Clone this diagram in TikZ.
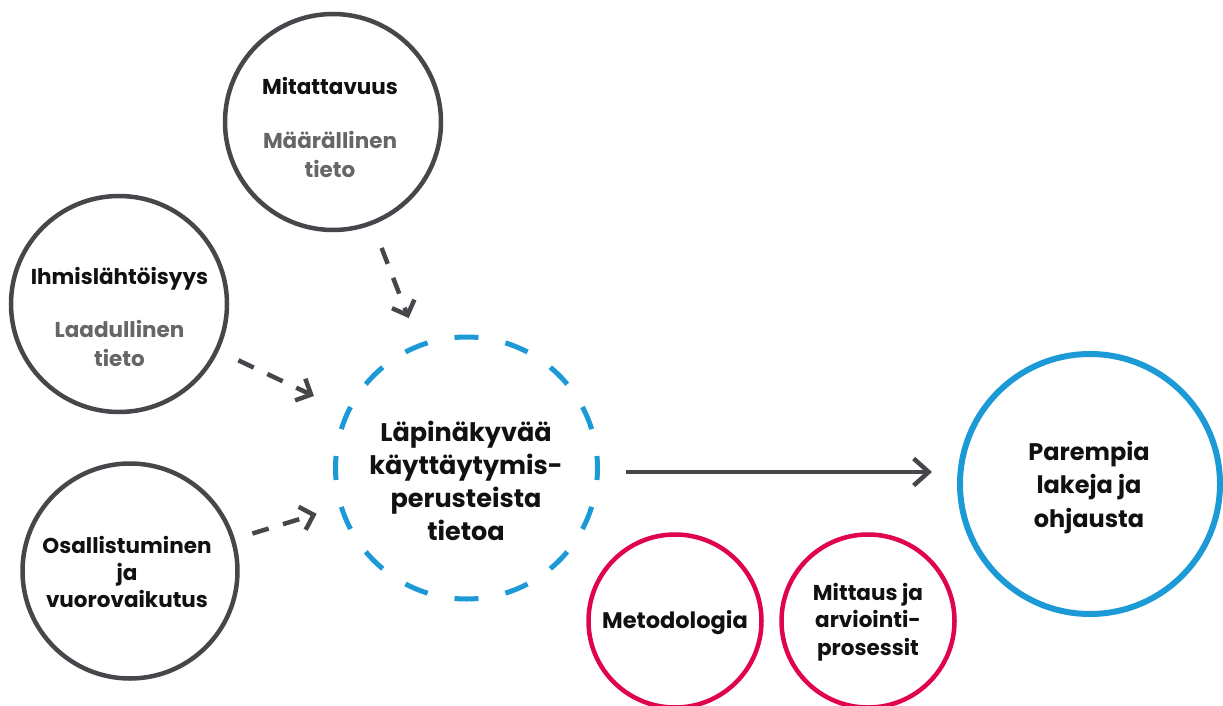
\documentclass[tikz,border=0pt]{standalone}
\usepackage{fontspec}
\setmainfont{Poppins}
\usetikzlibrary{arrows.meta}
\definecolor{ringgray}{HTML}{47464B}
\definecolor{subgray}{HTML}{666666}
\definecolor{txtblack}{HTML}{111111}
\definecolor{ringblue}{HTML}{1C9AD6}
\definecolor{ringred}{HTML}{E0044F}
\newcommand\fsz[2]{\fontsize{#1}{#2}\selectfont\bfseries}
\begin{document}
\begin{tikzpicture}[x=1pt,y=-1pt,
  ring/.style={circle,draw=ringgray,line width=4.5pt,inner sep=0pt,outer sep=0pt},
  bluering/.style={circle,draw=ringblue,line width=6pt,inner sep=0pt,outer sep=0pt},
  dashring/.style={circle,draw=ringblue,line width=5pt,inner sep=0pt,outer sep=0pt,
    dash pattern=on 24pt off 27.45pt,dash phase=12pt},
  redring/.style={circle,draw=ringred,line width=4.5pt,inner sep=0pt,outer sep=0pt},
  lbl/.style={inner sep=0pt,outer sep=0pt,align=center,text=txtblack,anchor=base},
  dasharrow/.style={draw=ringgray,line width=4.5pt,dash pattern=on 17pt off 15pt,
    -{Straight Barb[length=12pt,width=24pt]}},
  solidarrow/.style={draw=ringgray,line width=4.5pt,
    -{Straight Barb[length=15pt,width=27pt]}}
]
\useasboundingbox (0,0) rectangle (1223,706);
% circles
\node[ring,minimum size=216pt] (m) at (333,122) {};
\node[ring,minimum size=216pt] (i) at (119,304) {};
\node[ring,minimum size=215pt] (o) at (130,571) {};
\node[dashring,minimum size=262pt] (c) at (466.5,468) {};
\node[bluering,minimum size=260pt] (p) at (1090,484) {};
\node[redring,minimum size=173pt] (me) at (675,621) {};
\node[redring,minimum size=173pt] (mi) at (868,621) {};
% labels (base anchor = baseline of last line)
\node[lbl,font=\fsz{21.5}{28.5}] (mt) at (330,177)
  {Mitattavuus\\[25pt]\textcolor{subgray}{Määrällinen}\\\textcolor{subgray}{tieto}};
\node[lbl,font=\fsz{21.5}{28.5}] (it) at (119.5,366)
  {Ihmislähtöisyys\\[25pt]\textcolor{subgray}{Laadullinen}\\\textcolor{subgray}{tieto}};
\node[lbl,font=\fsz{21.5}{27}] (ot) at (127,607)
  {Osallistuminen\\ja\\vuorovaikutus};
\node[lbl,font=\fsz{25.5}{33}] (ct) at (466,540)
  {Läpinäkyvää\\käyttäytymis-\\perusteista\\tietoa};
\node[lbl,font=\fsz{24}{33.5}] (pt) at (1089,527)
  {Parempia\\lakeja ja\\ohjausta};
\node[lbl,font=\fsz{22.5}{27.5}] (met) at (675,628) {Metodologia};
\node[lbl,font=\fsz{21.5}{27.5}] (mit) at (868,655)
  {Mittaus ja\\arviointi-\\prosessit};
% connectors
\draw[dasharrow,shorten <=27pt,shorten >=29.7pt] (m) -- (c);
\draw[dasharrow,shorten <=24pt,shorten >=37.7pt] (i) -- (c);
\draw[dasharrow,shorten <=20.5pt,shorten >=25.7pt] (o) -- (c);
\draw[solidarrow] ([shift={(28.5,4)}]c.east) -- ([shift={(-28,-12)}]p.west);
\end{tikzpicture}
\end{document}
